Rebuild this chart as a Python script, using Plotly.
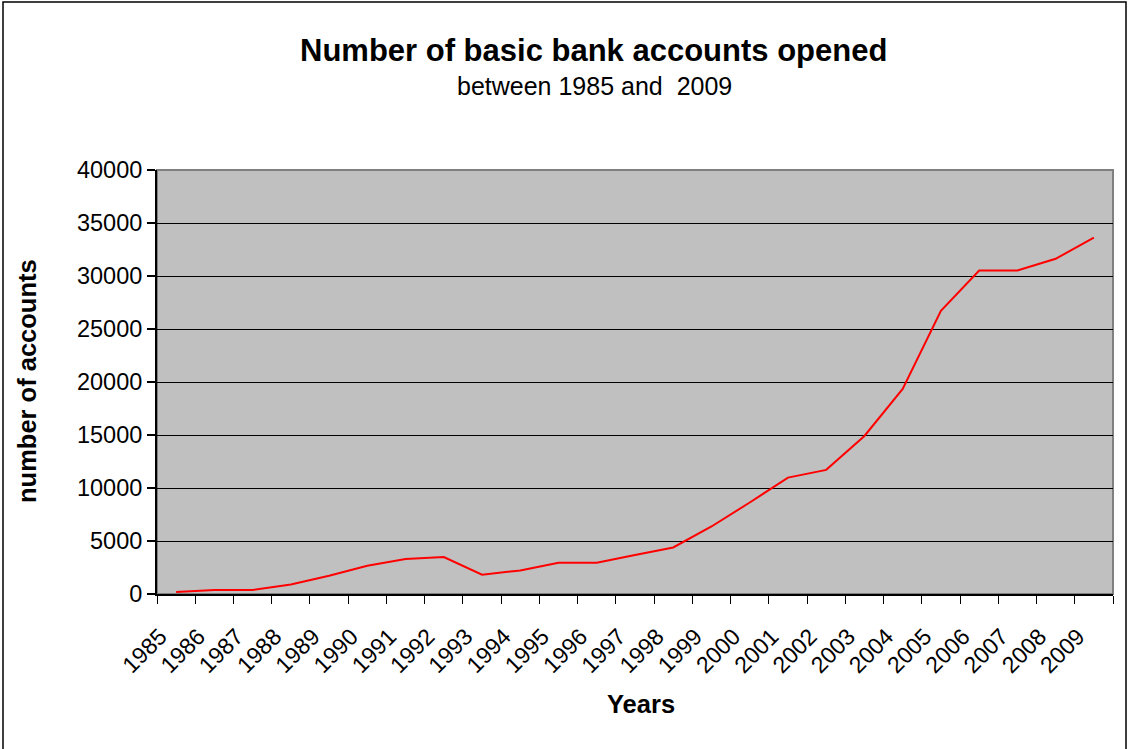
import plotly.graph_objects as go

years = [str(y) for y in range(1985, 2010)]
accounts = [190, 380, 380, 900, 1720, 2660, 3300, 3480, 1820, 2220, 2950, 2950,
            3670, 4390, 6370, 8630, 10980, 11710, 14910, 19340, 26720, 30520,
            30520, 31620, 33630]
y_ticks = [0, 5000, 10000, 15000, 20000, 25000, 30000, 35000, 40000]

title_text = "Number of basic bank accounts opened"
subtitle_text = "between 1985 and  2009"
x_title = "Years"
y_title = "number of accounts"

FONT = "Liberation Sans, Arial, sans-serif"

fig = go.Figure()
fig.add_trace(go.Scatter(x=years, y=accounts, mode="lines",
                         line=dict(color="#ff0000", width=2), showlegend=False))

L, R, T, B = 157, 16, 170, 155
W, H = 1129, 749
pw, ph = W - L - R, H - T - B

def px(x):
    return (x - L) / pw

def py(y):
    return (H - B - y) / ph

fig.update_layout(
    width=W, height=H,
    margin=dict(l=L, r=R, t=T, b=B),
    paper_bgcolor="white",
    plot_bgcolor="#c0c0c0",
    font=dict(family=FONT, color="black", size=20),
    annotations=[
        dict(text="<b>" + title_text + "</b>", x=px(593), y=py(51), xref="paper", yref="paper",
             showarrow=False, font=dict(size=31, family=FONT), xanchor="center", yanchor="middle"),
        dict(text=subtitle_text, x=px(594), y=py(86), xref="paper", yref="paper",
             showarrow=False, font=dict(size=25, family=FONT), xanchor="center", yanchor="middle"),
        dict(text="<b>" + x_title + "</b>", x=px(641), y=py(704), xref="paper", yref="paper",
             showarrow=False, font=dict(size=25.5, family=FONT), xanchor="center", yanchor="middle"),
        dict(text="<b>" + y_title + "</b>", x=px(27), y=py(381), xref="paper", yref="paper",
             showarrow=False, font=dict(size=25.5, family=FONT), textangle=-90,
             xanchor="center", yanchor="middle"),
    ],
    shapes=[
        dict(type="rect", xref="paper", yref="paper", x0=0, x1=1, y0=0, y1=1,
             line=dict(color="#808080", width=2), layer="below"),
        dict(type="rect", xref="paper", yref="paper", x0=px(3), x1=px(1126), y0=py(2), y1=py(760),
             line=dict(color="black", width=1.5)),
    ],
)

fig.update_xaxes(
    type="category",
    tickson="boundaries",
    ticks="outside", ticklen=8, tickwidth=1, tickcolor="black",
    showline=True, linecolor="black", linewidth=2,
    showgrid=False,
    tickangle=-45,
    tickfont=dict(size=23, family=FONT),
    ticklabelstandoff=18,
    ticklabelshift=-16,
    range=[-0.5, len(years) - 0.5],
)
fig.update_yaxes(
    range=[0, 40000],
    tickvals=y_ticks,
    ticktext=[str(v) for v in y_ticks],
    ticks="outside", ticklen=8, tickwidth=1.5, tickcolor="black",
    showline=True, linecolor="black", linewidth=2,
    showgrid=True, gridcolor="black", gridwidth=1,
    zeroline=False,
    tickfont=dict(size=23.5, family=FONT),
)

fig.write_html("out.html", config={"displayModeBar": False},
               post_script="document.body.style.margin='0';")
